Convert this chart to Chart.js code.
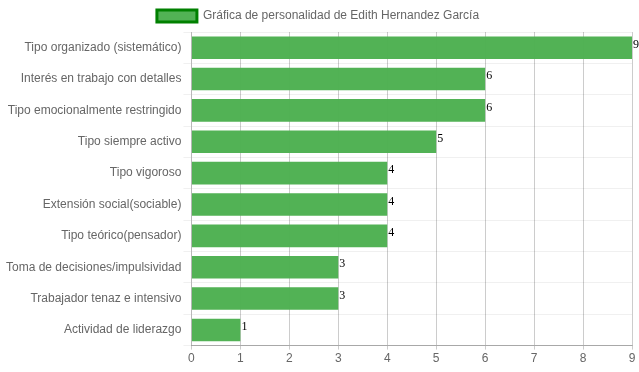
<!DOCTYPE html>
<html><head><meta charset="utf-8">
<script src="https://cdn.jsdelivr.net/npm/chart.js@4/dist/chart.umd.min.js"></script>
<style>html,body{margin:0;padding:0;background:#fff}#wrap{width:639px;height:372px}</style>
</head><body><div id="wrap"><canvas id="c"></canvas></div>
<script>
const categories = ["Tipo organizado (sistemático)","Interés en trabajo con detalles","Tipo emocionalmente restringido","Tipo siempre activo","Tipo vigoroso","Extensión social(sociable)","Tipo teórico(pensador)","Toma de decisiones/impulsividad","Trabajador tenaz e intensivo","Actividad de liderazgo"];
const values = [9,6,6,5,4,4,4,3,3,1];
const seriesLabel = "Gráfica de personalidad de Edith Hernandez García";
const xTicks = [0,1,2,3,4,5,6,7,8,9];

const valueLabels = {
  id:'valueLabels',
  afterDatasetsDraw(chart){
    const ctx = chart.ctx; const meta = chart.getDatasetMeta(0);
    ctx.save(); ctx.font = "12px 'Liberation Serif', serif"; ctx.fillStyle = '#000';
    ctx.textBaseline = 'middle'; ctx.textAlign = 'left';
    meta.data.forEach((bar,i)=>{ ctx.fillText(String(values[i]), bar.x + 1, bar.y - 3); });
    ctx.restore();
  }
};
Chart.defaults.font.family = "'Liberation Sans', Arial, sans-serif";
Chart.defaults.font.size = 12;
Chart.defaults.color = '#666';
new Chart(document.getElementById('c'), {
  type:'bar',
  data:{labels:categories, datasets:[{label:seriesLabel, data:values,
    backgroundColor:'rgba(76,175,80,0.97)', borderColor:'#008000', borderWidth:0}]},
  options:{
    indexAxis:'y', responsive:true, maintainAspectRatio:false, animation:false,
    layout:{padding:{right:7,left:4,top:0,bottom:4}},
    plugins:{legend:{labels:{boxWidth:40, boxHeight:12, padding:10,
      generateLabels(chart){ return [{text:seriesLabel, fillStyle:'rgba(76,175,80,0.97)', strokeStyle:'#008000', lineWidth:3, fontColor:'#666', datasetIndex:0}]; }}},
      tooltip:{enabled:false}},
    scales:{
      x:{min:0,max:9, z:1, afterBuildTicks(s){ s.ticks = xTicks.map(v=>({value:v})); },
        grid:{color:'rgba(0,0,0,0.2)', drawTicks:true, tickLength:4},
        border:{color:'rgba(0,0,0,0.3)'}, ticks:{padding:2}},
      y:{grid:{color:'rgba(0,0,0,0.06)', tickLength:8}, border:{color:'rgba(0,0,0,0.1)'}, ticks:{padding:2}}
    }
  },
  plugins:[valueLabels]
});
</script></body></html>
